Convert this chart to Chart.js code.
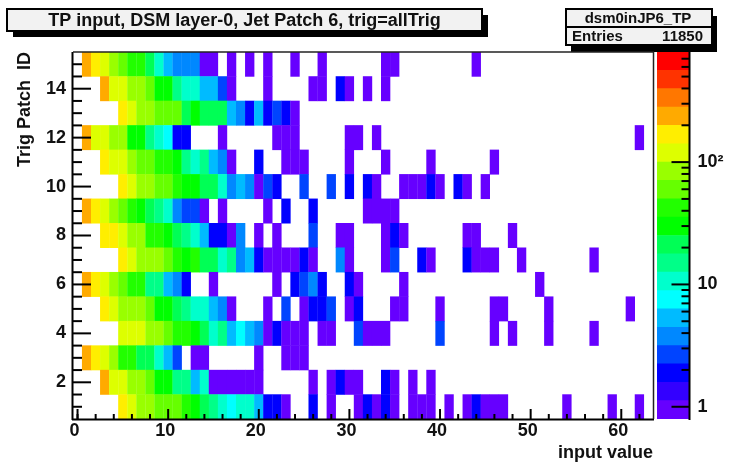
<!DOCTYPE html>
<html>
<head>
<meta charset="utf-8">
<style>
html,body{margin:0;padding:0;background:#fff;}
#wrap{position:relative;width:738px;height:464px;}
canvas{position:absolute;left:0;top:0;}
</style>
<script src="https://cdn.jsdelivr.net/npm/chart.js@4"></script>
</head>
<body>
<div id="wrap"><canvas id="heat" width="738" height="464"></canvas><canvas id="bar" width="738" height="464"></canvas></div>
<script>
// counts per input value (index = input value) for each trig patch
const row1=[0,0,0,0,0,170,120,85,85,60,60,60,40,30,20,15,10,7,10,10,5,2,2,1,0,0,2,0,1,0,0,1,2,1,2,1,0,1,1,1,0,1,0,1,2,1,1,1,0,0,0,0,0,0,1,0,0,0,0,1,0,0,1];
const row2=[0,0,0,240,120,120,85,85,60,30,30,15,15,5,10,1,1,1,1,1,1,0,0,0,0,0,1,0,1,2,1,1,0,0,2,1,0,1,0,1];
const row3=[0,240,170,120,85,40,40,20,20,10,5,3,0,1,1,0,0,0,0,0,1,0,0,1,1,1];
const row4=[0,0,0,0,0,120,120,120,85,85,60,40,40,30,20,10,15,5,7,5,4,1,2,1,1,1,0,1,1,0,0,3,1,1,1,0,0,0,0,0,3,0,0,0,0,0,1,0,1,0,0,0,1,0,0,0,0,1];
const row5=[0,0,0,170,120,85,85,85,60,30,30,20,15,10,10,5,4,1,0,0,0,1,0,3,0,1,2,2,3,0,1,2,0,0,0,1,1,0,0,0,1,0,0,0,0,0,1,1,0,0,0,0,1,0,0,0,0,0,0,0,0,1];
const row6=[0,240,170,120,85,60,40,40,15,15,5,4,2,0,0,1,0,0,0,0,0,0,1,0,2,3,4,2,0,0,2,1,0,0,0,0,1,0,0,0,0,0,0,0,0,0,0,0,0,0,0,1];
const row7=[0,0,0,0,0,170,120,85,85,85,60,40,30,40,20,20,10,15,4,5,2,1,1,1,1,2,1,0,0,4,1,0,0,0,1,3,0,0,2,1,0,0,0,2,1,1,1,0,0,1,0,0,0,0,0,0,0,1];
const row8=[0,0,0,170,170,120,85,85,40,40,30,20,15,10,5,2,2,1,4,0,1,0,1,0,0,0,3,0,0,1,1,0,0,0,1,2,1,0,0,0,0,0,0,1,1,0,0,0,1];
const row9=[0,240,170,120,85,60,40,30,20,15,10,4,3,3,1,0,1,0,0,0,0,1,0,2,0,0,2,0,0,0,0,0,1,1,1,1];
const row10=[0,0,0,0,0,170,120,85,85,60,60,40,30,30,20,20,10,4,5,4,1,3,2,0,0,3,0,0,3,0,2,0,2,1,0,0,1,1,1,2,1,0,2,1,0,1];
const row11=[0,0,0,170,120,120,85,60,60,40,40,30,15,10,15,5,4,1,0,0,2,0,0,1,1,1,0,0,0,0,1,0,0,0,1,0,0,0,0,1,0,0,0,0,0,0,1];
const row12=[0,240,120,120,85,85,30,30,15,10,7,2,2,0,0,0,1,0,0,0,0,0,1,1,1,0,0,0,0,0,1,1,0,1,0,0,0,0,0,0,0,0,0,0,0,0,0,0,0,0,0,0,0,0,0,0,0,0,0,0,0,0,1];
const row13=[0,0,0,0,0,170,120,85,85,60,60,60,20,30,20,20,20,5,4,2,5,2,3,2,1];
const row14=[0,0,0,240,120,120,85,85,60,30,30,15,10,10,5,5,3,1,0,0,0,1,0,0,0,0,1,1,0,2,1,0,1,0,1];
const row15=[0,240,170,120,85,60,40,40,20,10,5,4,4,4,1,1,0,1,0,1,0,1,0,0,1,0,0,1,0,0,0,0,0,0,1,1,0,0,0,0,0,0,0,0,1];
const patchRows=[row1,row2,row3,row4,row5,row6,row7,row8,row9,row10,row11,row12,row13,row14,row15];

const xTickValues=[0,10,20,30,40,50,60];
const xMinorTicks=[0,2,4,6,8,12,14,16,18,22,24,26,28,32,34,36,38,42,44,46,48,52,54,56,58,62];
const yTickValues=[2,4,6,8,10,12,14];
const yMinorTicks=[1,1.5,2.5,3,3.5,4.5,5,5.5,6.5,7,7.5,8.5,9,9.5,10.5,11,11.5,12.5,13,13.5,14.5,15];
const zTickValues=[1,10,100];
const zTickLabels=['1','10','10\u00B2'];
const zMinorTicks=[2,3,4,5,6,7,8,9,20,30,40,50,60,70,80,90,200,300,400,500,600,700];
const zEdges=[0.7943,1.122,1.585,2.239,3.162,4.467,6.31,8.913,12.59,17.78,25.12,35.48,50.12,70.79,100,141.3,199.5,281.8,398.1,562.3,794.3];
const palette=['#6600ff','#3300ff','#0000ff','#0044ff','#0088ff','#00bbff','#00ffff','#00ffcc','#00ff88','#00ff55','#00ff00','#22ff00','#66ff00','#99ff00','#ddff00','#ffee00','#ffaa00','#ff7700','#ff3300','#ff0000'];

const titleText='TP input, DSM layer-0, Jet Patch 6, trig=allTrig';
const statsName='dsm0inJP6_TP';
const statsLabel='Entries';
const statsValue='11850';
const FONT='"Liberation Sans", Arial, sans-serif';

function colorOf(v){
  for(let k=0;k<palette.length;k++){ if(v>=zEdges[k]&&v<zEdges[k+1]) return palette[k]; }
  return palette[palette.length-1];
}

const heatDatasets=patchRows.map((vals,r)=>{
  const id=r+1;
  const data=[];
  vals.forEach((c,i)=>{ if(c>0) data.push({x:i,y:[id-0.51,id+0.51],count:c}); });
  return {
    label:'Trig Patch '+id,
    data,
    backgroundColor:data.map(d=>colorOf(d.count)),
    borderWidth:0,
    barPercentage:1.03,
    categoryPercentage:1,
    grouped:false
  };
});

function pave(ctx,x,y,w,h,sx,sy){
  ctx.fillStyle='#000';
  ctx.fillRect(x+sx,y+sy,w,h);
  ctx.fillStyle='#f2f2f2';
  ctx.fillRect(x,y,w,h);
  ctx.strokeStyle='#000';
  ctx.lineWidth=2;
  ctx.strokeRect(x,y,w,h);
}

const framePlugin={
  id:'rootFrame',
  afterLayout(chart){
    chart.titleBlock.left=7;
    chart.titleBlock.right=482;
  },
  beforeDraw(chart){
    const ctx=chart.ctx;
    ctx.save();
    pave(ctx,7,9,475,22,6,6);
    pave(ctx,566,9,146,36,5,7);
    ctx.beginPath();ctx.moveTo(566,27);ctx.lineTo(712,27);ctx.lineWidth=2;ctx.strokeStyle='#000';ctx.stroke();
    ctx.restore();
  },
  afterDraw(chart){
    const ctx=chart.ctx, a=chart.chartArea, sx=chart.scales.x, sy=chart.scales.y;
    ctx.save();
    ctx.strokeStyle='#000';
    ctx.lineWidth=2;
    const line=(x1,y1,x2,y2)=>{ctx.beginPath();ctx.moveTo(x1,y1);ctx.lineTo(x2,y2);ctx.stroke();};
    xTickValues.forEach(v=>{const p=sx.getPixelForValue(v);line(p,a.bottom,p,a.bottom-10);});
    xMinorTicks.forEach(v=>{const p=sx.getPixelForValue(v);line(p,a.bottom,p,a.bottom-5);});
    yTickValues.forEach(v=>{const p=sy.getPixelForValue(v);line(a.left,p,a.left+18,p);});
    yMinorTicks.forEach(v=>{const p=sy.getPixelForValue(v);line(a.left,p,a.left+9,p);});
    line(a.left-0.5,a.top,a.left-0.5,a.bottom+1);
    line(a.left-1,a.bottom+0.5,a.right+1,a.bottom+0.5);
    ctx.lineWidth=1.5;ctx.strokeStyle='#222';
    line(a.left,a.top,a.right+1,a.top);
    line(a.right+0.5,a.top,a.right+0.5,a.bottom);
    ctx.fillStyle='#111';
    ctx.font='bold 15px '+FONT;
    ctx.textBaseline='middle';
    ctx.textAlign='center';ctx.fillText(statsName,638,19);
    ctx.textAlign='left';ctx.fillText(statsLabel,572,37);
    ctx.textAlign='right';ctx.fillText(statsValue,703,37);
    ctx.restore();
  }
};

new Chart(document.getElementById('heat'),{
  type:'bar',
  data:{datasets:heatDatasets},
  plugins:[framePlugin],
  options:{
    responsive:false,animation:false,
    layout:{padding:{left:0,right:85,top:0,bottom:0}},
    plugins:{
      legend:{display:false},
      tooltip:{enabled:false},
      title:{display:true,text:titleText,color:'#111',align:'center',
        font:{family:FONT,size:18,weight:'bold',lineHeight:1.2},
        padding:{top:10,bottom:20.4}}
    },
    scales:{
      x:{type:'linear',min:-0.5,max:63.5,offset:false,
        grid:{display:false,drawTicks:false},border:{display:false},
        afterBuildTicks:s=>{s.ticks=xTickValues.map(v=>({value:v}));},
        afterFit:s=>{s.height=45;},
        ticks:{color:'#111',font:{family:FONT,size:18,weight:'bold'},padding:1,labelOffset:-3,maxRotation:0,autoSkip:false,callback:v=>String(v)},
        title:{display:true,text:'input value',align:'end',color:'#111',font:{family:FONT,size:18,weight:'bold',lineHeight:1.2},padding:{top:0,bottom:0}}
      },
      y:{type:'linear',min:0.5,max:15.5,
        grid:{display:false,drawTicks:false},border:{display:false},
        afterBuildTicks:s=>{s.ticks=yTickValues.map(v=>({value:v}));},
        afterFit:s=>{s.width=73;},
        ticks:{color:'#111',font:{family:FONT,size:18,weight:'bold'},padding:7,autoSkip:false,callback:v=>String(v)},
        title:{display:true,text:'Trig Patch  ID',align:'end',color:'#111',font:{family:FONT,size:18,weight:'bold',lineHeight:1.2},padding:{top:14,bottom:0}}
      }
    }
  }
});

const barPlugin={
  id:'zTicks',
  afterDraw(chart){
    const ctx=chart.ctx,a=chart.chartArea,sz=chart.scales.y;
    ctx.save();
    ctx.strokeStyle='#000';ctx.lineWidth=2;
    const line=(x1,y1,x2,y2)=>{ctx.beginPath();ctx.moveTo(x1,y1);ctx.lineTo(x2,y2);ctx.stroke();};
    line(a.right,a.top,a.right,a.bottom+1);
    zTickValues.forEach(v=>{const p=sz.getPixelForValue(v);line(a.right,p,a.right-18,p);});
    zMinorTicks.forEach(v=>{const p=sz.getPixelForValue(v);line(a.right,p,a.right-8,p);});
    ctx.restore();
  }
};

new Chart(document.getElementById('bar'),{
  type:'bar',
  data:{labels:['z'],datasets:palette.map((c,k)=>({
    label:'level '+k,
    data:[[zEdges[k],zEdges[k+1]]],
    backgroundColor:c,borderWidth:0,barPercentage:1,categoryPercentage:1,grouped:false
  }))},
  plugins:[barPlugin],
  options:{
    responsive:false,animation:false,
    layout:{padding:{left:657,right:0,top:52,bottom:45}},
    plugins:{legend:{display:false},tooltip:{enabled:false},title:{display:false}},
    scales:{
      x:{display:false},
      y:{type:'logarithmic',position:'right',min:zEdges[0],max:zEdges[20],
        grid:{display:false,drawTicks:false},border:{display:false},
        afterBuildTicks:s=>{s.ticks=zTickValues.map(v=>({value:v}));},
        afterFit:s=>{s.width=48.5;},
        ticks:{color:'#111',font:{family:FONT,size:18,weight:'bold'},padding:8,autoSkip:false,
          callback:v=>zTickLabels[zTickValues.indexOf(v)]}
      }
    }
  }
});
</script>
</body>
</html>
